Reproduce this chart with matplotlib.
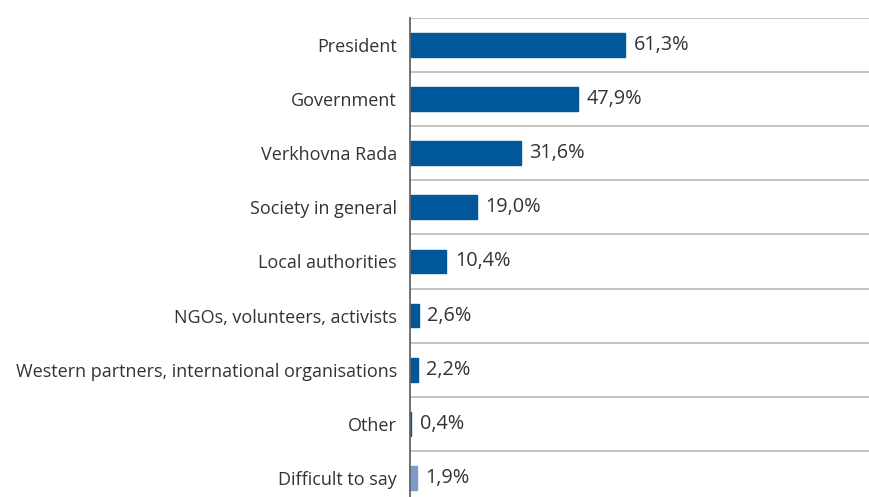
import matplotlib
matplotlib.use("Agg")
import matplotlib.pyplot as plt

categories = ["President", "Government", "Verkhovna Rada", "Society in general",
              "Local authorities", "NGOs, volunteers, activists",
              "Western partners, international organisations", "Other", "Difficult to say"]
values = [61.3, 47.9, 31.6, 19.0, 10.4, 2.6, 2.2, 0.4, 1.9]
value_labels = ["61,3%", "47,9%", "31,6%", "19,0%", "10,4%", "2,6%", "2,2%", "0,4%", "1,9%"]

dark = "#00589A"
light = "#7A9CC8"
colors = [dark] * 8 + [light]

plt.rcParams['font.family'] = ['Open Sans', 'DejaVu Sans']

fig = plt.figure(figsize=(8.69, 4.97), dpi=100)
W, H = 869, 497
left, right, top = 410, 869, 18
band = 54.1
bottom = top + band * len(categories)
ax = fig.add_axes([left / W, 1 - bottom / H, (right - left) / W, (bottom - top) / H])

n = len(categories)
ys = list(range(n))
ax.barh(ys, values, height=0.44, color=colors, edgecolor=colors, linewidth=1.0, zorder=3)
ax.set_ylim(n - 0.5, -0.5)
ax.set_xlim(0, 130.8)

for y in range(n):
    ax.axhline(y - 0.5, color="#bdbdbd", lw=1.3, zorder=1)

for y, v, lab in zip(ys, values, value_labels):
    ax.annotate(lab, xy=(v, y), xytext=(6, 0), textcoords="offset points",
                va="center", ha="left", fontsize=14.3, color="#333333")

ax.set_yticks(ys)
ax.set_yticklabels(categories, fontsize=13, color="#333333")
ax.tick_params(axis="y", length=0, pad=9.3)
ax.set_xticks([])
for s in ["top", "right", "bottom"]:
    ax.spines[s].set_visible(False)
ax.spines["left"].set_color("#666666")
ax.spines["left"].set_linewidth(1.3)
ax.spines["left"].set_zorder(4)

fig.savefig("out.png", dpi=100)
